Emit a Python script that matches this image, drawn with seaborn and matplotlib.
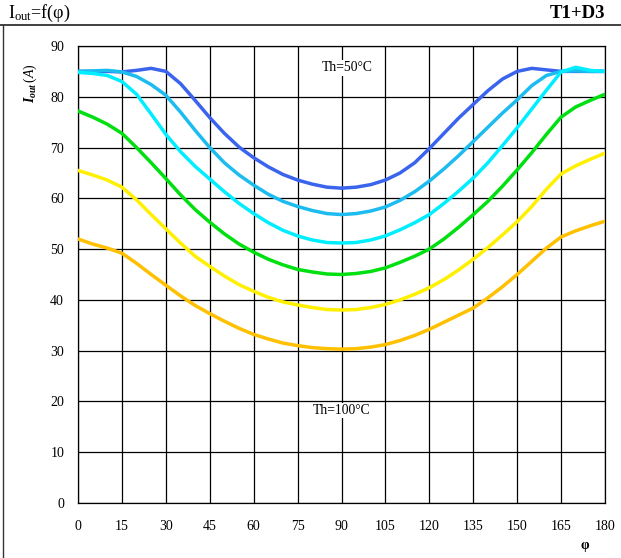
import numpy as np
import pandas as pd
import matplotlib.pyplot as plt
import seaborn as sns
from matplotlib.lines import Line2D

phi = list(range(0, 181, 5))

i_blue = [85.0, 85.0, 85.0, 84.9, 85.2, 85.6, 85.0, 82.6, 79.3, 75.9, 72.8, 70.1, 68.0,
          66.2, 64.7, 63.6, 62.8, 62.2, 62.0, 62.2, 62.7, 63.6, 65.0, 67.0, 69.8, 72.8,
          75.8, 78.5, 81.2, 83.5, 85.0, 85.6, 85.3, 85.0, 85.0, 85.0, 85.0]
i_sky = [85.0, 85.1, 85.2, 84.9, 84.0, 82.4, 80.3, 77.0, 73.4, 70.0, 67.0, 64.6, 62.6,
         60.8, 59.4, 58.4, 57.6, 57.0, 56.8, 57.0, 57.5, 58.3, 59.6, 61.3, 63.4, 65.8,
         68.4, 71.2, 74.0, 76.8, 79.4, 82.2, 84.2, 85.0, 85.1, 85.0, 85.0]
i_cyan = [84.8, 84.6, 84.2, 83.0, 80.5, 76.6, 72.6, 69.2, 66.3, 63.8, 61.3, 59.0, 57.0,
          55.2, 53.7, 52.6, 51.8, 51.3, 51.2, 51.3, 51.8, 52.6, 53.8, 55.2, 56.8, 59.0,
          61.4, 64.0, 67.0, 70.4, 73.9, 77.6, 81.3, 84.9, 85.8, 85.2, 85.0]
i_green = [77.2, 76.0, 74.6, 72.8, 70.0, 67.0, 63.9, 60.7, 57.8, 55.3, 53.0, 51.0, 49.4,
           48.0, 46.9, 46.0, 45.5, 45.1, 45.0, 45.2, 45.6, 46.3, 47.4, 48.6, 50.0, 52.0,
           54.3, 56.8, 59.4, 62.4, 65.6, 69.0, 72.6, 76.0, 78.0, 79.3, 80.5]
i_yellow = [65.5, 64.6, 63.6, 62.2, 59.7, 56.8, 54.0, 51.2, 48.6, 46.6, 44.7, 43.0, 41.7,
            40.5, 39.6, 39.0, 38.5, 38.1, 38.0, 38.1, 38.5, 39.1, 40.0, 41.1, 42.4, 44.0,
            45.9, 48.0, 50.3, 52.8, 55.4, 58.4, 61.8, 64.8, 66.4, 67.7, 68.9]
i_orange = [52.0, 51.0, 50.2, 49.2, 47.2, 45.0, 42.9, 40.8, 38.9, 37.3, 35.8, 34.4, 33.2,
            32.3, 31.5, 31.0, 30.6, 30.4, 30.3, 30.4, 30.7, 31.2, 32.0, 33.0, 34.2, 35.6,
            37.0, 38.4, 40.4, 42.6, 45.0, 47.6, 50.2, 52.4, 53.6, 54.6, 55.5]

curves = ['c1', 'c2', 'c3', 'c4', 'c5', 'c6']
colors = ['#3a64ee', '#1cbcf0', '#00eeff', '#00e010', '#fff000', '#ffc000']

df = pd.concat([
    pd.DataFrame({'phi': phi, 'iout': v, 'curve': c})
    for c, v in zip(curves, [i_blue, i_sky, i_cyan, i_green, i_yellow, i_orange])
])

sns.set_style('white')
plt.rcParams['font.family'] = ['Liberation Serif', 'DejaVu Serif']
plt.rcParams['text.color'] = 'black'
plt.rcParams['mathtext.fontset'] = 'custom'
plt.rcParams['mathtext.rm'] = 'Liberation Serif'
plt.rcParams['mathtext.it'] = 'Liberation Serif:italic'
plt.rcParams['mathtext.bf'] = 'Liberation Serif:bold'
plt.rcParams['mathtext.bfit'] = 'Liberation Serif:italic:bold'

fig = plt.figure(figsize=(6.21, 5.58), dpi=100)
ax = fig.add_axes([78 / 621, 55 / 558, 527 / 621, 457 / 558])

sns.lineplot(df, x='phi', y='iout', hue='curve', palette=colors, sort=False,
             estimator=None, linewidth=2.5, legend=False, ax=ax, zorder=3,
             solid_joinstyle='round', solid_capstyle='round')

ax.set_xlim(0, 180)
ax.set_ylim(0, 90)
ax.set_xticks(range(0, 181, 15))
ax.set_yticks(range(0, 91, 10))
ax.grid(True, color='black', linewidth=0.9)
ax.set_axisbelow(True)
for s in ax.spines.values():
    s.set_color('black')
    s.set_linewidth(0.9)
ax.tick_params(length=0, labelsize=10, colors='black')
ax.tick_params(axis='x', pad=12)
ax.tick_params(axis='y', pad=10)
ax.set_xlabel(None)
ax.set_ylabel(None)

ax.text(92, 85.7, 'Th=50°C', ha='center', va='center', fontsize=9.8,
        bbox=dict(facecolor='white', edgecolor='none', pad=1), zorder=4)
ax.text(90, 18.2, 'Th=100°C', ha='center', va='center', fontsize=9.8,
        bbox=dict(facecolor='white', edgecolor='none', pad=1), zorder=4)

fig.text(8 / 621, 1 - 13 / 558, r'I$_{\mathrm{out}}$=f(φ)', fontsize=13,
         ha='left', va='center')
fig.text(605 / 621, 1 - 13 / 558, 'T1+D3', fontsize=13.5, fontweight='bold',
         ha='right', va='center')
fig.text(30 / 621, 1 - 83 / 558, r'$\mathbfit{I}_{\mathbfit{out}}\,\mathit{(A)}$',
         fontsize=10, rotation=90, ha='center', va='center')
fig.text(585 / 621, 1 - 545 / 558, 'φ', fontsize=10, fontweight='bold',
         ha='center', va='center')

fig.add_artist(Line2D([0, 1], [1 - 25 / 558] * 2, color='#333333', linewidth=1.3,
                      transform=fig.transFigure))
fig.add_artist(Line2D([3 / 621] * 2, [0, 1 - 25 / 558], color='#333333', linewidth=1.0,
                      transform=fig.transFigure))

fig.savefig('out.png', dpi=100)
